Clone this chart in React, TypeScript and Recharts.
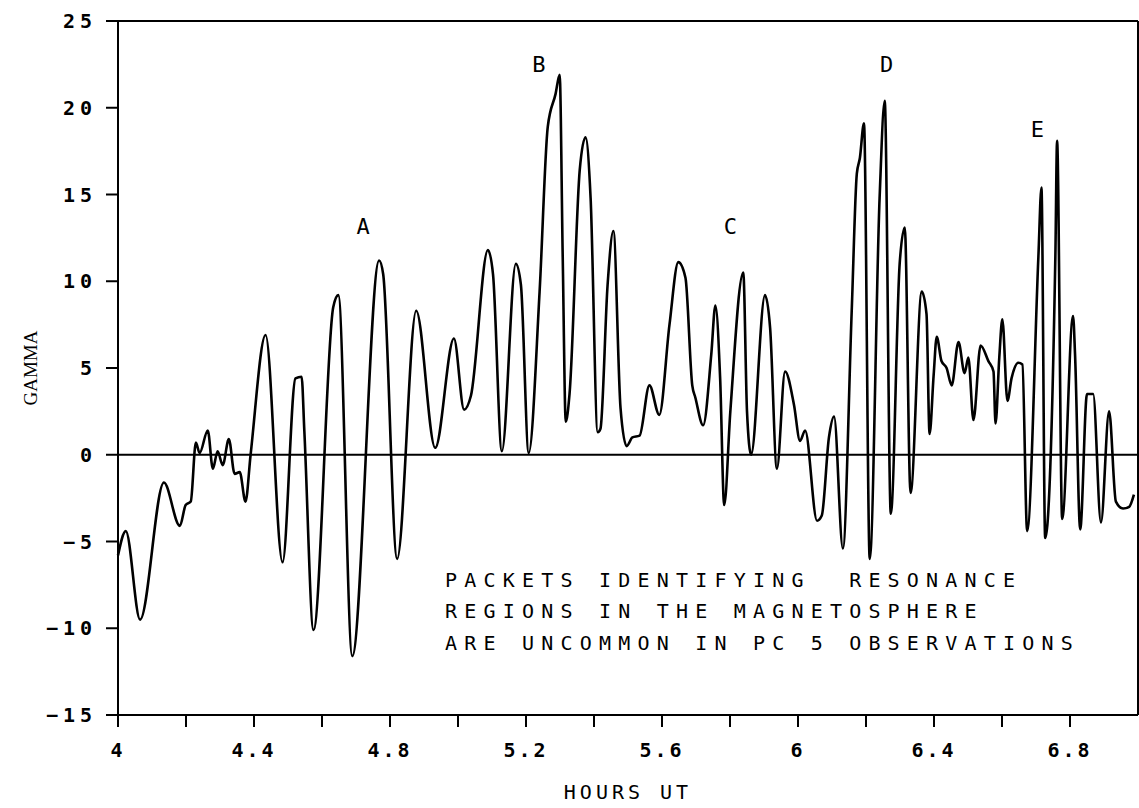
import {
  LineChart,
  Line,
  XAxis,
  YAxis,
  ReferenceLine,
  ReferenceDot,
  Label,
} from 'recharts';

// [hours UT, gamma], split by packet
const leadIn: [number, number][] = [
  [4.0, -5.8], [4.023, -4.4], [4.065, -9.5], [4.135, -1.6], [4.182, -4.1], [4.199, -2.9],
  [4.214, -2.7], [4.229, 0.7], [4.24, 0.1], [4.264, 1.4], [4.279, -0.8], [4.293, 0.2],
  [4.308, -0.6], [4.326, 0.9], [4.343, -1.1], [4.358, -1.0], [4.375, -2.7], [4.39, 0],
];
const packetA: [number, number][] = [
  [4.434, 6.9], [4.484, -6.2], [4.522, 4.4], [4.54, 4.5], [4.548, 1.4], [4.575, -10.1],
  [4.633, 8.5], [4.648, 9.2], [4.689, -11.6], [4.768, 11.2], [4.78, 10.4], [4.821, -6.0],
  [4.877, 8.3], [4.933, 0.4], [4.988, 6.7], [5.018, 2.6], [5.038, 3.4], [5.088, 11.8],
  [5.103, 10.4], [5.129, 0.2], [5.17, 11.0], [5.185, 9.8], [5.208, 0.1],
];
const packetB: [number, number][] = [
  [5.24, 9.4], [5.264, 18.9], [5.287, 20.8], [5.299, 21.9], [5.308, 11.4], [5.317, 1.9],
  [5.328, 3.5], [5.358, 16.4], [5.375, 18.3], [5.39, 14.8], [5.411, 1.3], [5.419, 1.5],
  [5.44, 9.8], [5.457, 12.9], [5.478, 2.7], [5.496, 0.5], [5.513, 1.0], [5.534, 1.1],
  [5.563, 4.0], [5.592, 2.3], [5.622, 7.5], [5.648, 11.1], [5.669, 10.2], [5.689, 4.0],
  [5.698, 3.3], [5.721, 1.7],
];
const packetC: [number, number][] = [
  [5.745, 5.8], [5.757, 8.6], [5.771, 4.4], [5.783, -2.9], [5.801, 2.5], [5.839, 10.5],
  [5.85, 2.5], [5.862, 0], [5.903, 9.2], [5.918, 7.3], [5.938, -0.8], [5.962, 4.8],
  [5.988, 2.9], [6.006, 0.8], [6.021, 1.4], [6.056, -3.8], [6.07, -3.5], [6.091, 1.0],
  [6.106, 2.2], [6.132, -5.4],
];
const packetD: [number, number][] = [
  [6.158, 8.3], [6.173, 16.2], [6.182, 17.1], [6.194, 19.1], [6.211, -6.0], [6.24, 14.8],
  [6.255, 20.4], [6.273, -3.4], [6.299, 11.0], [6.314, 13.1], [6.331, -2.2], [6.364, 9.4],
  [6.378, 8.1], [6.387, 1.2], [6.399, 4.6], [6.408, 6.8], [6.422, 5.4], [6.437, 5.0],
  [6.452, 4.0], [6.472, 6.5], [6.49, 4.7], [6.501, 5.6], [6.516, 2.0], [6.537, 6.3],
  [6.56, 5.4], [6.575, 4.8], [6.581, 1.8], [6.592, 5.6], [6.601, 7.8], [6.616, 3.1],
  [6.628, 4.4], [6.648, 5.3], [6.66, 5.2],
];
const packetE: [number, number][] = [
  [6.674, -4.4], [6.707, 11.4], [6.716, 15.4], [6.727, -4.8], [6.757, 11.5], [6.762, 18.1],
  [6.777, -3.7], [6.809, 8.0], [6.815, 5.7], [6.83, -4.3], [6.85, 3.5], [6.868, 3.5],
  [6.891, -3.9], [6.915, 2.5], [6.935, -2.7], [6.956, -3.1], [6.974, -3.0], [6.988, -2.3],
];

const xTicks = [4, 4.2, 4.4, 4.6, 4.8, 5, 5.2, 5.4, 5.6, 5.8, 6, 6.2, 6.4, 6.6, 6.8];
const xLabelled = [4, 4.4, 4.8, 5.2, 5.6, 6, 6.4, 6.8];
const yTicks = [-15, -10, -5, 0, 5, 10, 15, 20, 25];

const peakLetters = ['A', 'B', 'C', 'D', 'E'];
const peakHours = [4.721, 5.238, 5.801, 6.261, 6.704];
const peakGamma = [13.2, 22.5, 13.2, 22.5, 18.8];

const noteLines = [
  'PACKETS IDENTIFYING  RESONANCE',
  'REGIONS IN THE MAGNETOSPHERE',
  'ARE UNCOMMON IN PC 5 OBSERVATIONS',
];
const noteAt = { hour: 4.962, gamma: -7.6 };

const data = [...leadIn, ...packetA, ...packetB, ...packetC, ...packetD, ...packetE].map(
  ([t, g]) => ({ t, g })
);

const mono = '"DejaVu Sans Mono", monospace';

const fmtX = (v: number) => (xLabelled.some((l) => Math.abs(l - v) < 1e-6) ? String(v) : '');
const fmtY = (v: number) => (v < 0 ? '\u2212' + Math.abs(v) : String(v));

const App = () => (
  <div style={{ position: 'absolute', left: 0, top: 0, background: '#fff' }}>
    <LineChart
      width={1139}
      height={808}
      data={data}
      margin={{ top: 21, right: 1, left: 0, bottom: 0 }}
    >
      <XAxis
        dataKey="t"
        type="number"
        domain={[4, 7]}
        ticks={xTicks}
        interval={0}
        tickFormatter={fmtX}
        height={93}
        tickSize={12}
        tickMargin={16}
        stroke="#000"
        strokeWidth={2}
        tick={{ fill: '#000', fontSize: 20, fontFamily: mono, fontWeight: 'bold', letterSpacing: 3 }}
      >
        <Label
          value="HOURS UT"
          position="insideBottom"
          offset={9}
          style={{ fill: '#000', fontSize: 20, fontFamily: mono, letterSpacing: 4 }}
        />
      </XAxis>
      <YAxis
        type="number"
        domain={[-15, 25]}
        ticks={yTicks}
        interval={0}
        width={118}
        tickSize={12}
        tickMargin={9}
        tickFormatter={fmtY}
        stroke="#000"
        strokeWidth={2}
        tick={{ fill: '#000', fontSize: 20, fontFamily: mono, fontWeight: 'bold', letterSpacing: 5 }}
      >
        <Label
          value="GAMMA"
          angle={-90}
          position="insideLeft"
          offset={30}
          style={{ fill: '#000', fontSize: 19, fontFamily: '"Liberation Serif", serif', textAnchor: 'middle' }}
        />
      </YAxis>
      <ReferenceLine y={25} stroke="#000" strokeWidth={2} />
      <ReferenceLine x={7} stroke="#000" strokeWidth={2} />
      <ReferenceLine y={0} stroke="#000" strokeWidth={2.2} />
      <Line
        dataKey="g"
        type="monotone"
        stroke="#000"
        strokeWidth={2.6}
        dot={false}
        isAnimationActive={false}
      />
      {peakLetters.map((name, i) => (
        <ReferenceDot
          key={name}
          x={peakHours[i]}
          y={peakGamma[i]}
          r={0}
          shape={(p: any) => (
            <text
              x={p.cx}
              y={p.cy + 8}
              textAnchor="middle"
              fill="#000"
              fontSize={22}
              fontFamily={mono}
            >
              {name}
            </text>
          )}
        />
      ))}
      <ReferenceDot
        x={noteAt.hour}
        y={noteAt.gamma}
        r={0}
        shape={(p: any) => (
          <text
            x={p.cx}
            y={p.cy}
            fill="#000"
            fontSize={20}
            fontFamily={mono}
            letterSpacing={7.2}
            style={{ whiteSpace: 'pre' }}
          >
            {noteLines.map((line, i) => (
              <tspan key={i} x={p.cx} y={p.cy + i * 31.5}>
                {line}
              </tspan>
            ))}
          </text>
        )}
      />
    </LineChart>
  </div>
);

export default App;
